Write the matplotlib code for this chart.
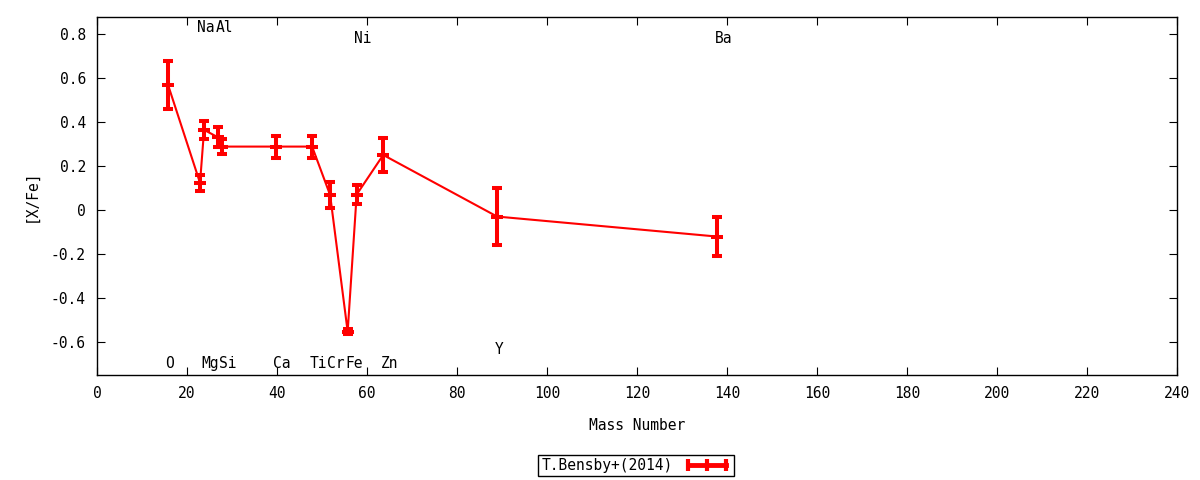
import numpy as np
import matplotlib
matplotlib.use("Agg")
import matplotlib.pyplot as plt
from matplotlib.lines import Line2D
from matplotlib.ticker import FuncFormatter

# datos
elementos = ["O", "Na", "Mg", "Al", "Si", "Ca", "Ti", "Cr", "Fe", "Ni", "Zn", "Y", "Ba"]
masa = [15.8, 22.9, 23.8, 26.9, 27.8, 39.8, 47.8, 51.8, 55.7, 57.7, 63.6, 88.9, 137.8]
x_fe = [0.568, 0.123, 0.364, 0.33, 0.288, 0.288, 0.288, 0.068, -0.553, 0.07, 0.25, -0.03, -0.121]
error = [0.11, 0.035, 0.04, 0.045, 0.035, 0.05, 0.05, 0.06, 0.01, 0.045, 0.078, 0.13, 0.09]

# posición vertical de las etiquetas de cada elemento
y_etiqueta = [-0.70, 0.83, -0.70, 0.83, -0.70, -0.70, -0.70, -0.70, -0.70, 0.78, -0.70, -0.635, 0.78]

plt.rcParams["font.family"] = ["DejaVu Sans Mono"]
plt.rcParams["font.size"] = 10

fig = plt.figure(figsize=(12, 4.8), dpi=100)
ax = fig.add_axes([0.0808, 0.2188, 0.9002, 0.7458])

ax.errorbar(masa, x_fe, yerr=error, color="red", lw=1.5, elinewidth=2.9,
            capsize=3.6, capthick=2.9, marker="_", ms=8, mew=2.9)

for nombre, m, ye in zip(elementos, masa, y_etiqueta):
    ax.text(m - 0.6, ye, nombre, ha="left", va="center", fontsize=10.5)

ax.set_xlim(0, 240)
ax.set_ylim(-0.75, 0.877)
ax.set_xticks(np.arange(0, 241, 20))
ax.set_yticks(np.arange(-0.6, 0.81, 0.2))
ax.yaxis.set_major_formatter(FuncFormatter(lambda v, p: "0" if abs(v) < 1e-9 else f"{v:.1f}"))
ax.tick_params(direction="in", length=6, top=True, right=True, pad=8, labelsize=10.5)
for s in ax.spines.values():
    s.set_linewidth(1)

ax.set_xlabel("Mass Number", labelpad=12, fontsize=10.5)
ax.set_ylabel("[X/Fe]", labelpad=9, fontsize=10.5)

manejador = Line2D([], [], color="red", lw=3.5, marker="|", ms=9, mew=3)
fig.legend([manejador], ["T.Bensby+(2014)"], loc="center", bbox_to_anchor=(0.53, 0.031),
           numpoints=3, markerfirst=False, fancybox=False, framealpha=1,
           edgecolor="black", handlelength=3.2, borderpad=0.2, borderaxespad=0,
           fontsize=10.5)

fig.savefig("out.png", dpi=100)
